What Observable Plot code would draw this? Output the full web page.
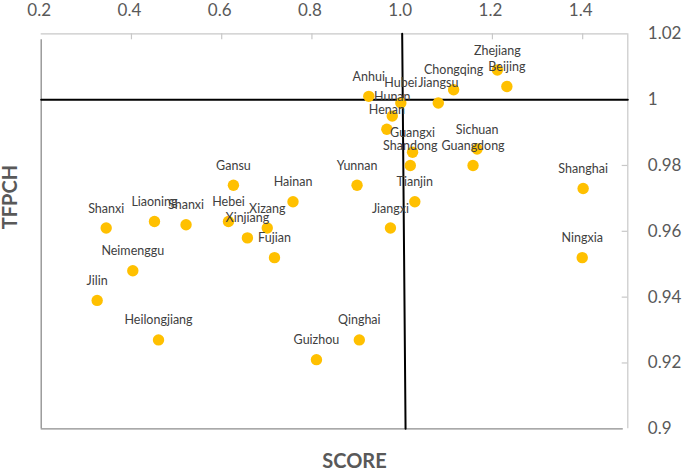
<!DOCTYPE html>
<html>
<head>
<meta charset="utf-8">
<script src="https://cdn.jsdelivr.net/npm/d3@7"></script>
<script src="https://cdn.jsdelivr.net/npm/@observablehq/plot@0.6"></script>
<style>
  html, body { margin: 0; padding: 0; background: #fff; }
  #chart { width: 685px; height: 470px; }
</style>
</head>
<body>
<div id="chart"></div>
<script>
// ---- data ----
const provinces = ["Beijing","Tianjin","Hebei","Shanxi","Neimenggu","Liaoning","Jilin","Heilongjiang",
  "Shanghai","Jiangsu","Zhejiang","Anhui","Fujian","Jiangxi","Shandong","Henan","Hubei","Hunan",
  "Guangdong","Guangxi","Hainan","Chongqing","Sichuan","Guizhou","Yunnan","Xizang","Shanxi",
  "Gansu","Qinghai","Ningxia","Xinjiang"];
const scores = [1.232,1.028,0.615,0.344,0.403,0.451,0.324,0.460,
  1.401,1.080,1.211,0.926,0.717,0.974,1.018,0.966,0.997,0.978,
  1.157,1.023,0.758,1.114,1.166,0.810,0.900,0.701,0.521,
  0.626,0.905,1.399,0.657];
const tfpch = [1.004,0.969,0.963,0.961,0.948,0.963,0.939,0.927,
  0.973,0.999,1.009,1.001,0.952,0.961,0.980,0.991,0.999,0.995,
  0.980,0.984,0.969,1.003,0.985,0.921,0.974,0.961,0.962,
  0.974,0.927,0.952,0.958];

const xTicks = [0.2,0.4,0.6,0.8,1.0,1.2,1.4];
const xTickLabels = ["0.2","0.4","0.6","0.8","1.0","1.2","1.4"];
const yTicks = [0.9,0.92,0.94,0.96,0.98,1.0,1.02];
const yTickLabels = ["0.9","0.92","0.94","0.96","0.98","1","1.02"];
const xDomain = [0.2, 1.5];
const yDomain = [0.9, 1.02];

// reference cross lines (as drawn in the source chart)
const hLine = [{x: 0.2, y: 1.0}, {x: 1.5, y: 1.0}];
const vLine = [{x: 1.0, y: 1.02}, {x: 1.0075, y: 0.9}];

const xTitle = "SCORE";
const yTitle = "TFPCH";

const points = provinces.map((p, i) => ({name: p, score: scores[i], tfpch: tfpch[i]}));

const axisLight = "#c8c8c8";
const borderDark = "#8c8c8c";
const textGray = "#595959";

const chart = Plot.plot({
  width: 685,
  height: 470,
  marginLeft: 40.7,
  marginRight: 57.7,
  marginTop: 33.3,
  marginBottom: 41.7,
  style: {fontFamily: "Lato, 'Open Sans', sans-serif", background: "#fff", overflow: "visible"},
  x: {domain: xDomain, axis: null},
  y: {domain: yDomain, axis: null},
  marks: [
    // plot-area border (left & bottom)
    Plot.ruleX([xDomain[0]], {y1: 0.9, y2: 1.0182, stroke: borderDark, strokeWidth: 1.3}),
    Plot.ruleY([yDomain[0]], {x1: 0.2, x2: 1.49, stroke: borderDark, strokeWidth: 1.3}),
    // top axis line & inward ticks
    Plot.ruleY([yDomain[1]], {stroke: axisLight, strokeWidth: 1.2}),
    Plot.ruleX(xTicks.slice(1), {x: d => d, insetBottom: 389, stroke: axisLight, strokeWidth: 1.2}),
    // right axis line & inward ticks
    Plot.ruleX([xDomain[1]], {stroke: axisLight, strokeWidth: 1.2}),
    Plot.ruleY(yTicks.slice(1, -1), {y: d => d, insetLeft: 581, stroke: axisLight, strokeWidth: 1.2}),
    // tick labels
    Plot.axisX({anchor: "top", ticks: xTicks, tickSize: 0, tickPadding: 18, dx: -2,
      tickFormat: (d) => xTickLabels[xTicks.indexOf(d)], fontSize: 17, fill: textGray}),
    Plot.axisY({anchor: "right", ticks: yTicks, tickSize: 0, tickPadding: 20,
      tickFormat: (d) => yTickLabels[yTicks.findIndex(t => Math.abs(t - d) < 1e-9)], fontSize: 17, fill: textGray}),
    // cross lines
    Plot.line(hLine, {x: "x", y: "y", stroke: "#000", strokeWidth: 2}),
    Plot.line(vLine, {x: "x", y: "y", stroke: "#000", strokeWidth: 2}),
    // points
    Plot.dot(points, {x: "score", y: "tfpch", r: 5.7, fill: "#FFC000", stroke: "none"}),
    Plot.text(points, {x: "score", y: "tfpch", text: "name", dy: -19.5, fontSize: 12.5, fill: "#404040"}),
    // axis titles
    Plot.text([xTitle], {frameAnchor: "bottom", dx: 20, dy: 32.5, fontSize: 20, fontWeight: "bold", fill: textGray, lineAnchor: "middle"}),
    Plot.text([yTitle], {frameAnchor: "left", dx: -31, dy: -2, rotate: -90, fontSize: 20, fontWeight: "bold", fill: textGray, lineAnchor: "middle"})
  ]
});
document.getElementById("chart").appendChild(chart);
</script>
</body>
</html>
